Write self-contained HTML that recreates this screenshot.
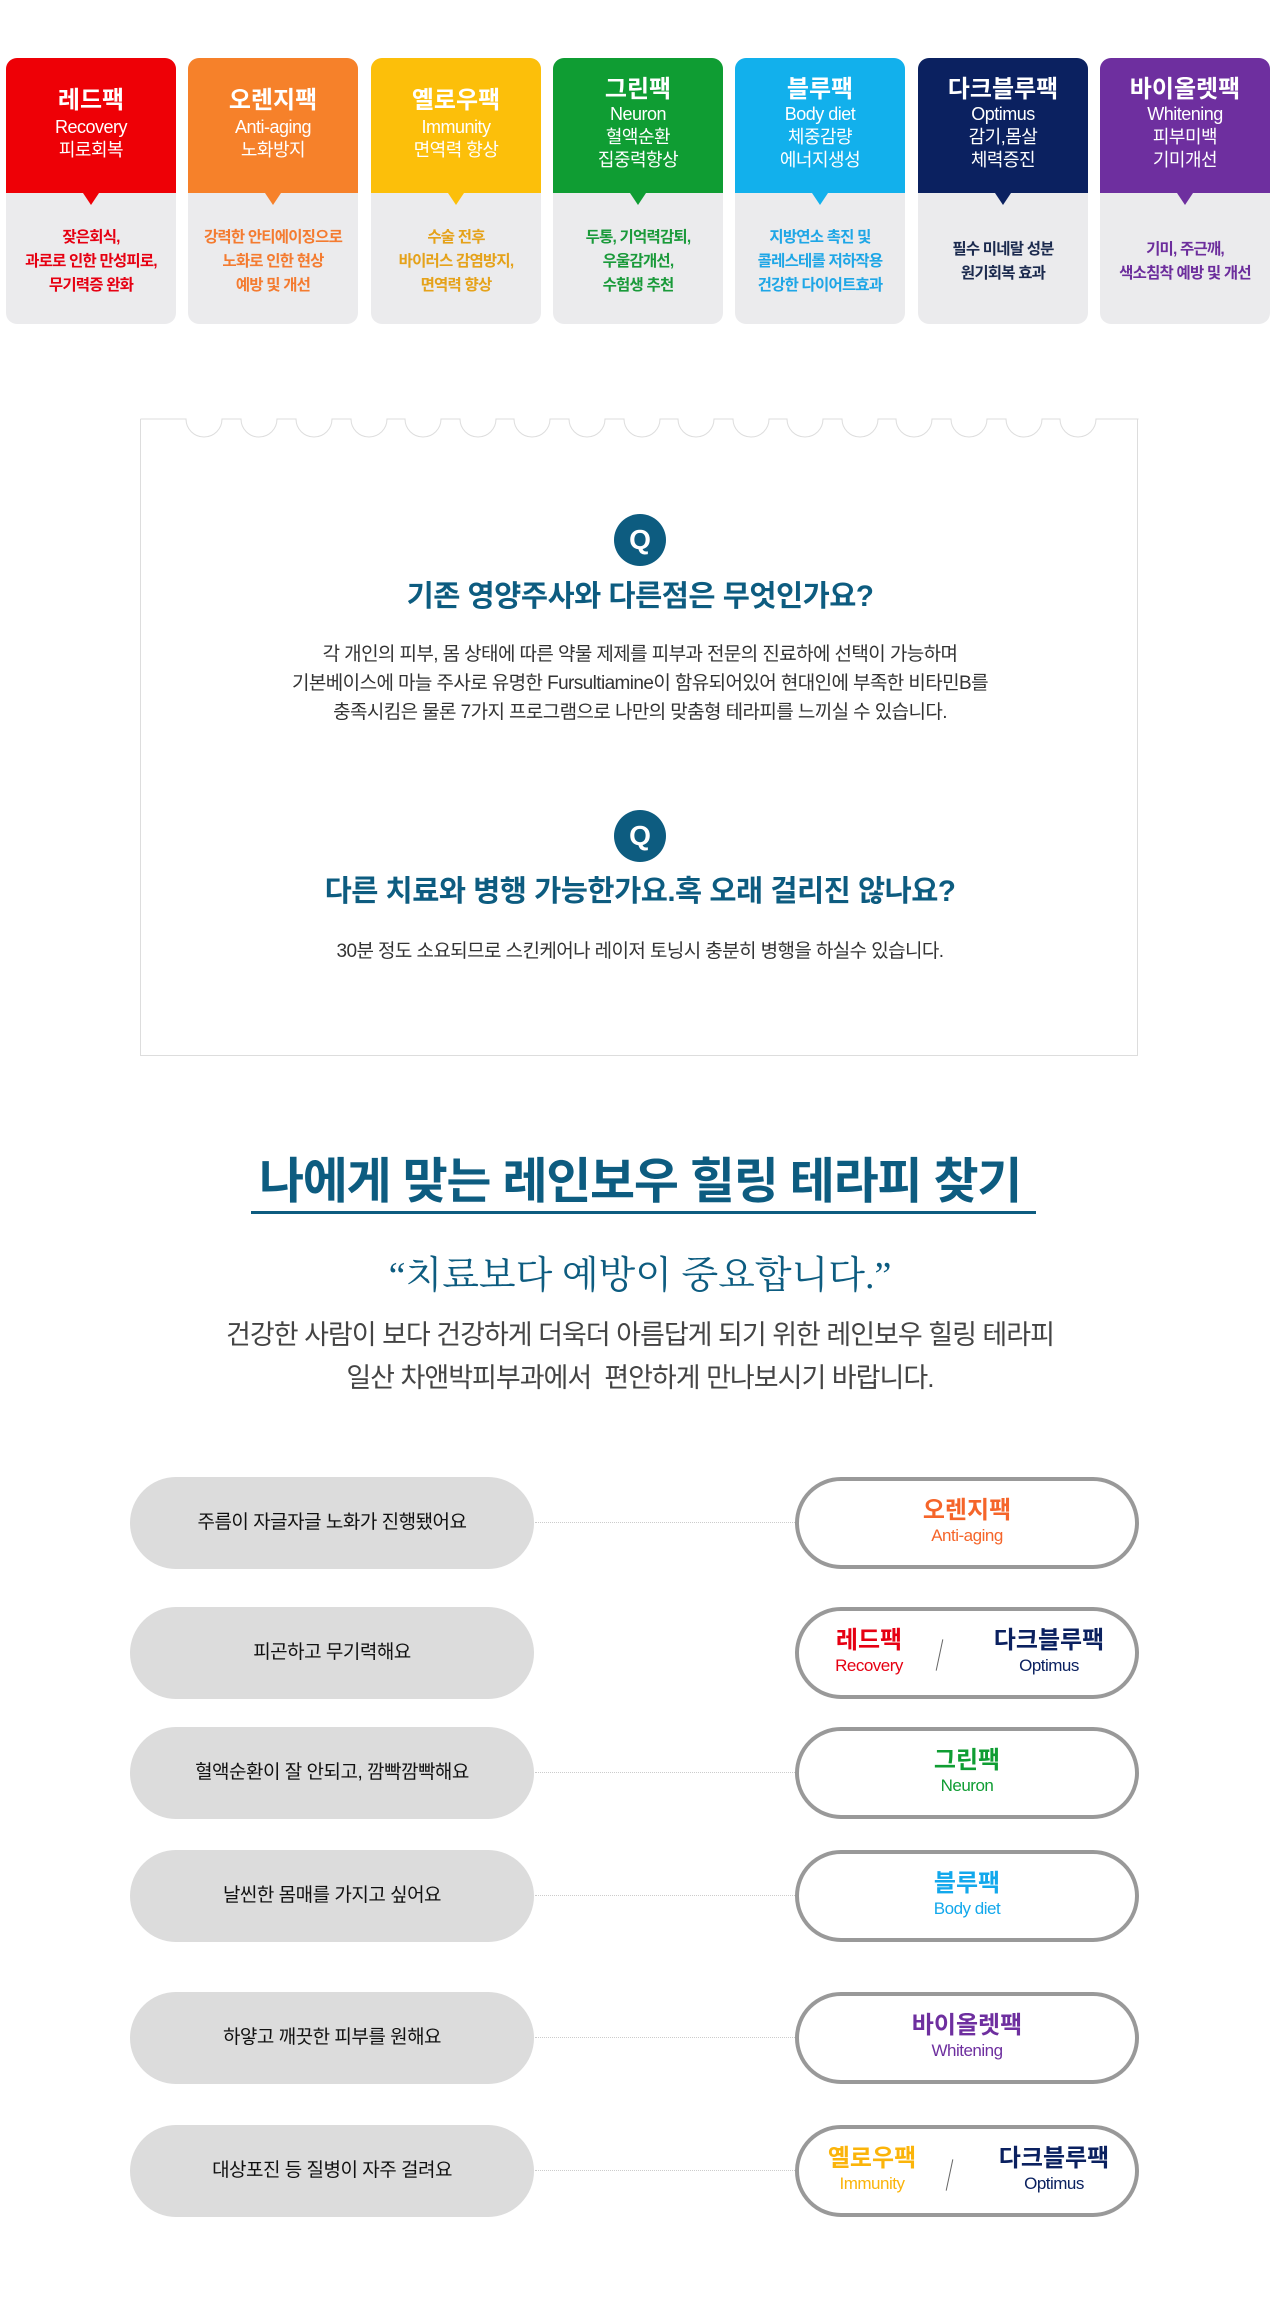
<!DOCTYPE html>
<html><head><meta charset="utf-8"><style>
*{margin:0;padding:0;box-sizing:border-box}
body{width:1280px;height:2311px;background:#fff;position:relative;overflow:hidden;font-family:"Liberation Sans","Noto Sans CJK KR",sans-serif}
.card{position:absolute;top:58px;width:170px;height:266px;border-radius:11px;background:#ebebed;overflow:hidden}
.hd{position:absolute;left:0;top:0;width:170px;height:135px;color:#fff;text-align:center}
.hd .t{font-size:24px;font-weight:bold;line-height:26px}
.hd .s{font-size:18px;line-height:23px;letter-spacing:-0.5px}
.arrow{position:absolute;top:135px;left:77px;width:0;height:0;border-left:8px solid transparent;border-right:8px solid transparent;border-top:12px solid}
.bd{position:absolute;left:0;width:170px;text-align:center;font-size:15.5px;font-weight:bold;line-height:24px;letter-spacing:-0.8px}
.faq{position:absolute;left:140px;top:419px;width:998px;height:637px;border:1px solid #ddd;border-top:none}
.q{position:absolute;left:614px;width:52px;height:52px;border-radius:50%;background:#0d5c80;color:#fff;font-weight:bold;font-size:28px;line-height:52px;text-align:center}
.qt{position:absolute;left:0;width:1280px;text-align:center;color:#0d5c80;font-weight:bold;font-size:29.5px;letter-spacing:-0.5px}
.qb{position:absolute;left:0;width:1280px;text-align:center;color:#333;font-size:19px;line-height:29px;letter-spacing:-0.6px}
.lp{position:absolute;left:130px;width:404px;height:92px;border-radius:46px;background:#dcdcdc;text-align:center;line-height:92px;font-size:19px;color:#111;letter-spacing:-0.5px}
.rp{position:absolute;left:795px;width:344px;height:92px;border-radius:46px;border:4px solid #999;background:#fff;text-align:center}
.dl{position:absolute;left:535px;width:260px;border-top:1px dotted #ccc}
.rp .t{font-size:24px;font-weight:bold;line-height:28px;margin-top:16px}
.rp .s{font-size:17px;line-height:22px;letter-spacing:-0.5px}
.half{position:absolute;top:0;width:150px}
</style></head><body>

<div class="card" style="left:6px"><div class="hd" style="background:#ee0006"><div class="t" style="margin-top:30px">레드팩</div><div class="s" style="margin-top:2px">Recovery</div><div class="s">피로회복</div></div><div class="arrow" style="border-top-color:#ee0006"></div><div class="bd" style="top:168px;color:#e60012">잦은회식,<br>과로로 인한 만성피로,<br>무기력증 완화</div></div>
<div class="card" style="left:188px"><div class="hd" style="background:#f6812a"><div class="t" style="margin-top:30px">오렌지팩</div><div class="s" style="margin-top:2px">Anti-aging</div><div class="s">노화방지</div></div><div class="arrow" style="border-top-color:#f6812a"></div><div class="bd" style="top:168px;color:#f47b30">강력한 안티에이징으로<br>노화로 인한 현상<br>예방 및 개선</div></div>
<div class="card" style="left:371px"><div class="hd" style="background:#fcbf0a"><div class="t" style="margin-top:30px">옐로우팩</div><div class="s" style="margin-top:2px">Immunity</div><div class="s">면역력 향상</div></div><div class="arrow" style="border-top-color:#fcbf0a"></div><div class="bd" style="top:168px;color:#e5a21a">수술 전후<br>바이러스 감염방지,<br>면역력 향상</div></div>
<div class="card" style="left:553px"><div class="hd" style="background:#0f9d33"><div class="t" style="margin-top:19px">그린팩</div><div class="s">Neuron</div><div class="s">혈액순환</div><div class="s">집중력향상</div></div><div class="arrow" style="border-top-color:#0f9d33"></div><div class="bd" style="top:168px;color:#1a9a3a">두통, 기억력감퇴,<br>우울감개선,<br>수험생 추천</div></div>
<div class="card" style="left:735px"><div class="hd" style="background:#12b0ec"><div class="t" style="margin-top:19px">블루팩</div><div class="s">Body diet</div><div class="s">체중감량</div><div class="s">에너지생성</div></div><div class="arrow" style="border-top-color:#12b0ec"></div><div class="bd" style="top:168px;color:#1ea6e6">지방연소 촉진 및<br>콜레스테롤 저하작용<br>건강한 다이어트효과</div></div>
<div class="card" style="left:918px"><div class="hd" style="background:#0b2160"><div class="t" style="margin-top:19px">다크블루팩</div><div class="s">Optimus</div><div class="s">감기,몸살</div><div class="s">체력증진</div></div><div class="arrow" style="border-top-color:#0b2160"></div><div class="bd" style="top:180px;color:#1b2a4e">필수 미네랄 성분<br>원기회복 효과</div></div>
<div class="card" style="left:1100px"><div class="hd" style="background:#6e2f9f"><div class="t" style="margin-top:19px">바이올렛팩</div><div class="s">Whitening</div><div class="s">피부미백</div><div class="s">기미개선</div></div><div class="arrow" style="border-top-color:#6e2f9f"></div><div class="bd" style="top:180px;color:#6c2d9c">기미, 주근깨,<br>색소침착 예방 및 개선</div></div>

<div class="faq"></div>
<svg style="position:absolute;left:140px;top:410px" width="1001" height="40">
<path d="M0.5 9 H46 A18 18 0 0 0 82 9 H101 A18 18 0 0 0 137 9 H156 A18 18 0 0 0 192 9 H211 A18 18 0 0 0 247 9 H265 A18 18 0 0 0 301 9 H320 A18 18 0 0 0 356 9 H374 A18 18 0 0 0 410 9 H429 A18 18 0 0 0 465 9 H484 A18 18 0 0 0 520 9 H538 A18 18 0 0 0 574 9 H593 A18 18 0 0 0 629 9 H647 A18 18 0 0 0 683 9 H702 A18 18 0 0 0 738 9 H756 A18 18 0 0 0 792 9 H811 A18 18 0 0 0 847 9 H866 A18 18 0 0 0 902 9 H920 A18 18 0 0 0 956 9 H998.5" fill="none" stroke="#ddd" stroke-width="1"/>
</svg>
<div class="q" style="top:514px">Q</div>
<div class="qt" style="top:573px">기존 영양주사와 다른점은 무엇인가요?</div>
<div class="qb" style="top:640px">각 개인의 피부, 몸 상태에 따른 약물 제제를 피부과 전문의 진료하에 선택이 가능하며<br>기본베이스에 마늘 주사로 유명한 Fursultiamine이 함유되어있어 현대인에 부족한 비타민B를<br>충족시킴은 물론 7가지 프로그램으로 나만의 맞춤형 테라피를 느끼실 수 있습니다.</div>
<div class="q" style="top:810px">Q</div>
<div class="qt" style="top:868px">다른 치료와 병행 가능한가요.혹 오래 걸리진 않나요?</div>
<div class="qb" style="top:937px">30분 정도 소요되므로 스킨케어나 레이저 토닝시 충분히 병행을 하실수 있습니다.</div>

<div style="position:absolute;left:0;width:1280px;top:1150px;text-align:center;color:#0d5c80;font-size:49px;font-weight:bold;letter-spacing:-1.3px;line-height:64px">나에게 맞는 레인보우 힐링 테라피 찾기</div>
<div style="position:absolute;left:251px;top:1211px;width:785px;height:3px;background:#0d5c80"></div>
<div style="position:absolute;left:0;width:1280px;top:1252px;text-align:center;color:#0d5c80;font-size:38px;line-height:48px;font-family:'Liberation Serif','Noto Serif CJK SC',serif">“치료보다 예방이 중요합니다.”</div>
<div style="position:absolute;left:0;width:1280px;top:1314px;text-align:center;color:#444;font-size:27px;line-height:43px;letter-spacing:-1px">건강한 사람이 보다 건강하게 더욱더 아름답게 되기 위한 레인보우 힐링 테라피<br>일산 차앤박피부과에서&nbsp; 편안하게 만나보시기 바랍니다.</div>

<div class="lp" style="top:1477px">주름이 자글자글 노화가 진행됐어요</div>
<div class="dl" style="top:1522px"></div>
<div class="rp" style="top:1477px"><div class="t" style="color:#f5652a">오렌지팩</div><div class="s" style="color:#f5652a">Anti-aging</div></div>

<div class="lp" style="top:1607px">피곤하고 무기력해요</div>
<div class="rp" style="top:1607px"><div class="half" style="left:-5px"><div class="t" style="color:#e60012">레드팩</div><div class="s" style="color:#e60012">Recovery</div></div><div style="position:absolute;left:140px;top:28px;width:1px;height:32px;background:#666;transform:rotate(12deg)"></div><div class="half" style="left:175px"><div class="t" style="color:#0b2160">다크블루팩</div><div class="s" style="color:#0b2160">Optimus</div></div></div>

<div class="lp" style="top:1727px">혈액순환이 잘 안되고, 깜빡깜빡해요</div>
<div class="dl" style="top:1772px"></div>
<div class="rp" style="top:1727px"><div class="t" style="color:#0f9d33">그린팩</div><div class="s" style="color:#0f9d33">Neuron</div></div>

<div class="lp" style="top:1850px">날씬한 몸매를 가지고 싶어요</div>
<div class="dl" style="top:1895px"></div>
<div class="rp" style="top:1850px"><div class="t" style="color:#12a8ec">블루팩</div><div class="s" style="color:#12a8ec">Body diet</div></div>

<div class="lp" style="top:1992px">하얗고 깨끗한 피부를 원해요</div>
<div class="dl" style="top:2037px"></div>
<div class="rp" style="top:1992px"><div class="t" style="color:#6e2f9f">바이올렛팩</div><div class="s" style="color:#6e2f9f">Whitening</div></div>

<div class="lp" style="top:2125px">대상포진 등 질병이 자주 걸려요</div>
<div class="dl" style="top:2170px"></div>
<div class="rp" style="top:2125px"><div class="half" style="left:-2px"><div class="t" style="color:#fbb40a">옐로우팩</div><div class="s" style="color:#fbb40a">Immunity</div></div><div style="position:absolute;left:150px;top:30px;width:1px;height:32px;background:#666;transform:rotate(12deg)"></div><div class="half" style="left:180px"><div class="t" style="color:#0b2160">다크블루팩</div><div class="s" style="color:#0b2160">Optimus</div></div></div>

</body></html>
